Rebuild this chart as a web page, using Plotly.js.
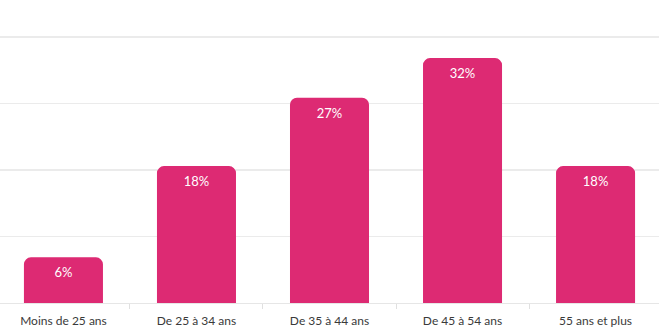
<!DOCTYPE html>
<html><head><meta charset="utf-8">
<script src="https://cdn.plot.ly/plotly-3.0.1.min.js"></script>
<style>html,body{margin:0;padding:0;background:#fff;}#chart{width:659px;height:330px;}</style>
</head><body><div id="chart"></div>
<script>
const categories = ["Moins de 25 ans", "De 25 à 34 ans", "De 35 à 44 ans", "De 45 à 54 ans", "55 ans et plus"];
const values = [6, 18, 27, 32.2, 18];
const labels = ["6%", "18%", "27%", "32%", "18%"];

const trace = {
  type: "bar",
  x: categories,
  y: values,
  text: labels,
  textposition: "inside",
  insidetextanchor: "end",
  textangle: 0,
  textfont: {family: "Lato, sans-serif", size: 13, color: "#ffffff"},
  marker: {color: "#dd2a73"},
  width: 0.594,
  hoverinfo: "none",
  cliponaxis: false
};

const layout = {
  width: 659, height: 330,
  margin: {l: 0, r: 0, t: 33, b: 27, pad: 0},
  paper_bgcolor: "#ffffff", plot_bgcolor: "#ffffff",
  barcornerradius: 7,
  showlegend: false,
  font: {family: "Lato, sans-serif", color: "#3a3a3a", size: 12},
  xaxis: {
    type: "category",
    range: [-0.477, 4.477],
    showgrid: false,
    zeroline: false,
    showline: true, linecolor: "#e6e6e6", linewidth: 1,
    ticks: "outside", tickson: "boundaries", ticklen: 5, tickcolor: "#e0e0e0", tickwidth: 1,
    ticklabelstandoff: 7,
    tickfont: {family: "Lato, sans-serif", size: 12, color: "#3a3a3a"}
  },
  yaxis: {
    range: [0, 35.5],
    tick0: 0, dtick: 8.75,
    showticklabels: false,
    showgrid: true, gridcolor: "#ebebeb", gridwidth: 1.5,
    zeroline: false, showline: false, ticks: ""
  }
};

Plotly.newPlot("chart", [trace], layout, {displayModeBar: false, staticPlot: true});
</script></body></html>
